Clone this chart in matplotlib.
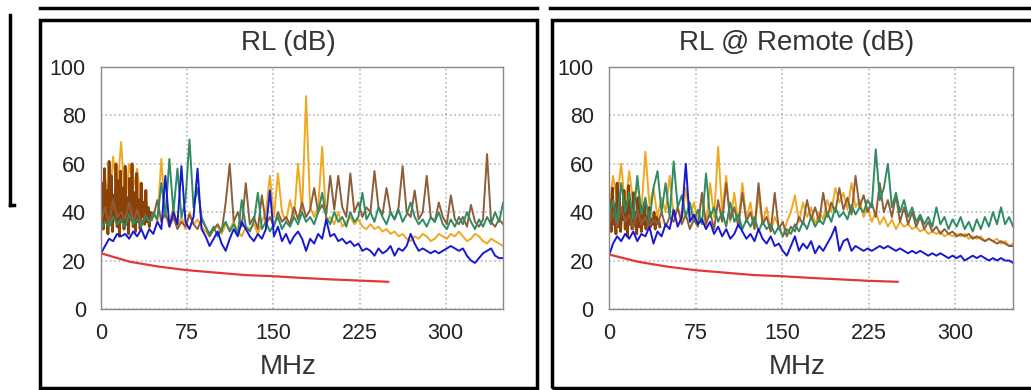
import numpy as np
import matplotlib.pyplot as plt
from matplotlib.lines import Line2D
from matplotlib.patches import Rectangle

# frequency sweep (MHz)
freq = np.linspace(0, 350, 101)
freq_lo = np.arange(0, 45)
limit_freq = np.arange(0, 251, 25)

# ---- RL (dB) ----
rl_blue = [23, 26, 29, 28, 31, 30, 31, 29, 32, 30,
           33, 29, 33, 31, 36, 33, 55, 34, 40, 35,
           59, 36, 33, 38, 58, 33, 30, 26, 29, 32,
           27, 24, 29, 33, 30, 36, 33, 30, 28, 31,
           29, 33, 49, 30, 34, 28, 31, 27, 30, 32,
           29, 24, 29, 27, 31, 29, 37, 30, 31, 28,
           29, 27, 28, 26, 27, 24, 25, 24, 22, 25,
           23, 24, 26, 22, 25, 24, 26, 31, 27, 24,
           25, 24, 23, 24, 23, 24, 25, 26, 25, 24,
           25, 22, 20, 19, 21, 23, 24, 25, 22, 21,
           21]
rl_gold = [45, 55, 40, 63, 48, 69, 42, 60, 50, 58,
           42, 45, 38, 40, 36, 62, 38, 36, 42, 34,
           38, 33, 40, 35, 37, 34, 32, 30, 33, 34,
           31, 35, 33, 36, 32, 30, 34, 33, 35, 31,
           36, 40, 55, 38, 56, 40, 36, 45, 38, 60,
           40, 88, 42, 38, 42, 67, 36, 38, 35, 40,
           34, 36, 38, 35, 37, 34, 33, 35, 33, 34,
           32, 33, 31, 32, 30, 31, 29, 28, 30, 29,
           31, 30, 28, 29, 31, 30, 29, 31, 30, 32,
           30, 28, 29, 31, 30, 28, 27, 29, 28, 27,
           26]
rl_brown = [36, 42, 35, 45, 38, 40, 37, 44, 36, 41,
            35, 39, 36, 38, 45, 36, 40, 34, 38, 33,
            36, 34, 39, 35, 33, 37, 34, 30, 33, 35,
            32, 44, 60, 36, 40, 34, 52, 35, 38, 33,
            47, 35, 38, 34, 40, 36, 38, 35, 42, 37,
            44, 38, 41, 50, 40, 43, 39, 55, 41, 55,
            42, 38, 56, 40, 44, 38, 42, 40, 57, 42,
            39, 50, 40, 37, 42, 59, 40, 38, 49, 37,
            40, 55, 38, 36, 44, 38, 35, 47, 37, 35,
            38, 34, 43, 36, 34, 37, 64, 36, 34, 37,
            35]
rl_brown_lo = [38, 52, 33, 58, 36, 49, 31, 61, 35, 55, 32, 47, 37, 60, 34,
               53, 30, 57, 36, 50, 33, 59, 35, 46, 31, 54, 37, 60, 34, 48,
               32, 56, 36, 45, 33, 52, 38, 44, 35, 49, 36, 42, 34, 40, 37]
rl_green = [33, 36, 34, 38, 35, 37, 34, 39, 35, 37,
            34, 38, 36, 40, 37, 52, 38, 62, 40, 58,
            38, 45, 70, 42, 50, 38, 34, 31, 34, 30,
            33, 36, 32, 35, 31, 45, 34, 32, 36, 48,
            33, 36, 32, 35, 38, 33, 36, 34, 38, 35,
            40, 36, 38, 35, 40, 48, 38, 35, 40, 36,
            38, 34, 40, 36, 38, 48, 37, 40, 36, 42,
            38, 35, 40, 37, 41, 36, 39, 44, 38, 35,
            37, 34, 38, 36, 40, 35, 33, 37, 34, 38,
            35, 40, 36, 33, 37, 34, 38, 35, 40, 36,
            44]
rl_limit = [23, 19.5, 17.5, 16, 15, 14, 13.5, 12.8, 12.2, 11.7, 11.2]

# ---- RL @ Remote (dB) ----
rem_blue = [22, 27, 30, 28, 31, 29, 32, 28, 31, 30,
            34, 27, 32, 30, 35, 33, 41, 34, 38, 60,
            36, 39, 35, 37, 33, 36, 31, 34, 30, 33,
            29, 31, 35, 32, 29, 31, 28, 33, 29, 27,
            30, 26, 27, 24, 22, 26, 30, 24, 27, 25,
            28, 23, 26, 24, 27, 30, 34, 24, 28, 29,
            24, 26, 25, 24, 25, 24, 25, 26, 25, 26,
            25, 24, 25, 24, 23, 24, 23, 24, 23, 22,
            23, 22, 23, 22, 21, 22, 21, 22, 20, 21,
            22, 21, 22, 21, 20, 21, 20, 21, 20, 20,
            19]
rem_gold = [40, 55, 45, 60, 42, 57, 44, 52, 40, 65,
            43, 50, 38, 46, 40, 55, 38, 42, 36, 50,
            38, 44, 36, 47, 34, 52, 38, 67, 40, 55,
            36, 48, 35, 52, 37, 44, 33, 47, 35, 42,
            32, 38, 34, 30, 36, 40, 47, 36, 44, 38,
            42, 35, 40, 37, 45, 40, 50, 44, 48, 41,
            52, 42, 45, 38, 42, 36, 40, 35, 38, 34,
            37, 33, 36, 34, 35, 33, 34, 32, 33, 31,
            32, 31, 32, 30, 31, 30, 31, 30, 31, 29,
            30, 29, 30, 28, 29, 28, 29, 27, 28, 26,
            27]
rem_brown = [35, 40, 34, 42, 36, 39, 33, 41, 35, 38,
             34, 37, 35, 40, 34, 38, 36, 42, 35, 39,
             33, 37, 34, 48, 35, 40, 33, 45, 36, 52,
             37, 42, 34, 48, 36, 40, 33, 52, 35, 38,
             32, 48, 33, 36, 30, 34, 32, 38, 35, 45,
             37, 42, 36, 48, 38, 44, 40, 50, 41, 46,
             39, 55, 42, 47, 40, 44, 38, 52, 40, 45,
             38, 47, 36, 42, 35, 40, 34, 38, 33, 36,
             32, 34, 31, 33, 31, 32, 30, 31, 30, 31,
             29, 30, 29, 28, 29, 28, 27, 28, 27, 26,
             26]
rem_brown_lo = [36, 45, 32, 50, 35, 43, 31, 52, 34, 47, 32, 41, 37, 49, 33,
                44, 30, 51, 35, 42, 33, 48, 36, 40, 31, 46, 34, 43, 32, 39,
                35, 44, 33, 38, 36, 42, 34, 37, 35, 40, 33, 38, 36, 37, 34]
rem_green = [38, 45, 36, 52, 40, 48, 37, 55, 39, 46,
             36, 50, 57, 40, 52, 38, 61, 42, 47, 38,
             44, 36, 41, 35, 56, 38, 42, 36, 40, 34,
             44, 36, 39, 33, 37, 34, 38, 32, 36, 33,
             35, 31, 34, 30, 33, 31, 35, 32, 36, 33,
             38, 34, 37, 35, 40, 36, 42, 38, 40, 37,
             43, 39, 42, 40, 45, 42, 66, 45, 50, 60,
             42, 48, 40, 45, 38, 42, 36, 39, 35, 38,
             34, 42, 35, 38, 33, 37, 34, 38, 33, 36,
             32, 37, 33, 38, 34, 40, 35, 42, 35, 38,
             34]
rem_limit = [22.5, 19.5, 17.5, 16, 15, 14, 13.5, 12.8, 12.2, 11.6, 11.2]

xticks = [0, 75, 150, 225, 300]
yticks = [0, 20, 40, 60, 80, 100]

plt.rcParams['font.family'] = ['Liberation Sans', 'DejaVu Sans']

fig = plt.figure(figsize=(10.31, 3.9), dpi=100)


def panel(rect, box_cx, title, gold, brown_lo, brown, green, blue, limit):
    ax = fig.add_axes(rect)
    ax.plot(freq, gold, color='#F0A820', lw=1.4)
    ax.plot(freq_lo, brown_lo, color='#8B4208', lw=2.0)
    ax.plot(freq, brown, color='#8E5E3A', lw=1.4)
    ax.plot(freq, green, color='#2E8B62', lw=1.4)
    ax.plot(freq, blue, color='#1818D0', lw=1.4)
    ax.plot(limit_freq, limit, color='#E03838', lw=1.6)
    ax.set_xlim(0, 350)
    ax.set_ylim(0, 100)
    ax.set_xticks(xticks)
    ax.set_yticks(yticks)
    ax.grid(True, linestyle=':', color='#b8b8b8', lw=1.2)
    ax.tick_params(length=0, labelsize=15.5, labelcolor='#222222')
    ax.tick_params(axis='x', pad=10)
    ax.tick_params(axis='y', pad=11)
    for s in ax.spines.values():
        s.set_color('#888888')
        s.set_linewidth(1)
    # title and axis label are centred on the outer box, not the axes
    fig.text(box_cx, 1 - 43 / 390, title, fontsize=20, color='#333333',
             ha='center', va='center')
    fig.text(box_cx, 1 - 367 / 390, 'MHz', fontsize=20, color='#333333',
             ha='center', va='center')
    return ax


panel([0.098, 0.208, 0.390, 0.620], 288 / 1031, 'RL (dB)',
      rl_gold, rl_brown_lo, rl_brown, rl_green, rl_blue, rl_limit)
panel([0.5907, 0.208, 0.392, 0.620], 797 / 1031, 'RL @ Remote (dB)',
      rem_gold, rem_brown_lo, rem_brown, rem_green, rem_blue, rem_limit)

# frame decorations around the panels
fig.add_artist(Rectangle((0.0388, 0.005), 0.482, 0.944, fill=False,
                         ec='black', lw=2.5, transform=fig.transFigure))
fig.add_artist(Rectangle((0.5354, 0.005), 0.48, 0.944, fill=False,
                         ec='black', lw=2.5, transform=fig.transFigure))
fig.add_artist(Line2D([0.0388, 0.5209], [0.9795, 0.9795], color='black',
                      lw=2.5, transform=fig.transFigure))
fig.add_artist(Line2D([0.5335, 1.0], [0.9795, 0.9795], color='black',
                      lw=2.5, transform=fig.transFigure))
fig.add_artist(Line2D([0.0097, 0.0097], [0.9615, 0.4744], color='black',
                      lw=2.5, transform=fig.transFigure))
fig.add_artist(Line2D([0.0097, 0.0135], [0.4744, 0.4744], color='black',
                      lw=2.5, transform=fig.transFigure))

fig.savefig('out.png', dpi=100)
